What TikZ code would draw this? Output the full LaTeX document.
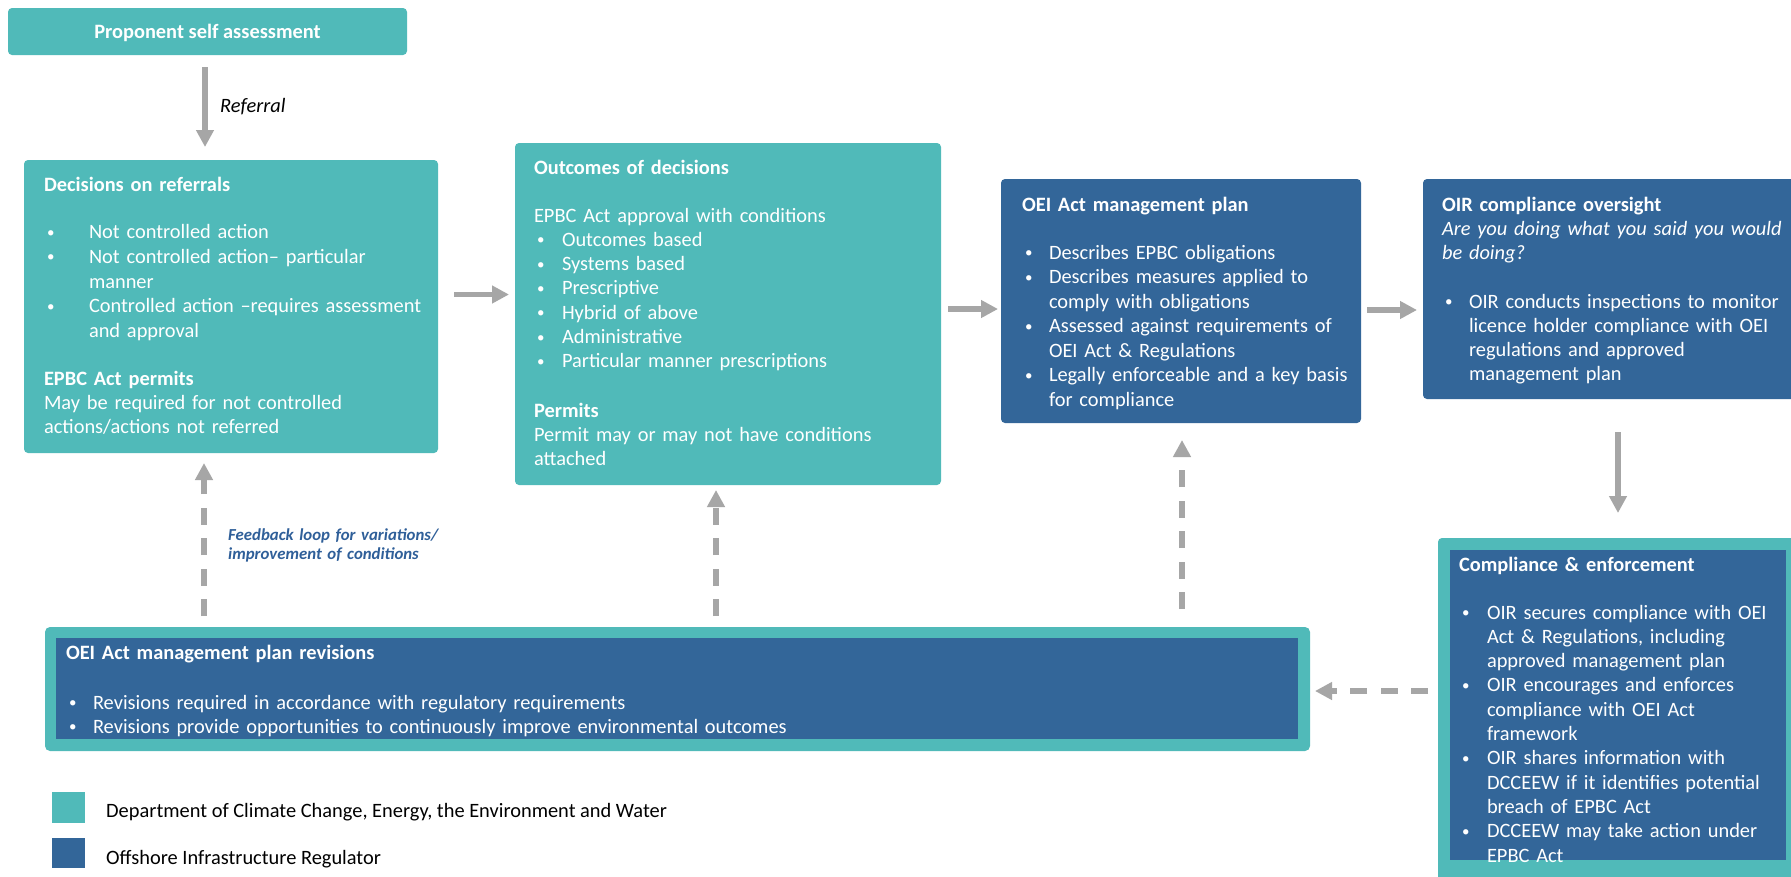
\documentclass[tikz,border=0pt]{standalone}
\usepackage{fontspec}
\setmainfont{Carlito}
\usetikzlibrary{arrows.meta}
\definecolor{tealbox}{HTML}{50BAB9}
\definecolor{navybox}{HTML}{336699}
\definecolor{greyarr}{HTML}{A6A6A6}
\definecolor{fbtext}{HTML}{2F5F99}
\newcommand{\msz}{\fontsize{20.4}{24.3}\selectfont}
\newcommand{\dotb}{\raisebox{1.5pt}{\fontsize{15}{15}\selectfont\textbullet}}
\newcommand{\bul}[2]{\par\hangindent=#1\hangafter=1\noindent\makebox[#1][l]{\hspace{3pt}\dotb}#2}
\newcommand{\bulf}[2]{\hangindent=#1\hangafter=1\makebox[#1][l]{\hspace{3pt}\dotb}#2}
\newcommand{\brk}{\hfil\break}
\begin{document}
\begin{tikzpicture}[x=1pt,y=-1pt,
  boxn/.style={rectangle, rounded corners=4pt, inner sep=0pt, outer sep=0pt, anchor=north west, draw=none},
  sqn/.style={rectangle, inner sep=0pt, outer sep=0pt, anchor=north west, draw=none},
  txt/.style={anchor=base west, inner sep=0pt, outer sep=0pt, text width=#1, align=left, text=white, font=\msz},
  arr/.style={draw=greyarr, line width=5.5pt, -{Triangle[length=17pt,width=17pt]}},
  darr/.style={arr, dash pattern=on 17pt off 13.5pt}
]
\useasboundingbox (0,0) rectangle (1791,876);
\fill[white] (0,0) rectangle (1791,876);

% boxes
\node[boxn, fill=tealbox, minimum width=399pt, minimum height=47pt] (prop) at (8,8) {};
\node[boxn, fill=tealbox, minimum width=414pt, minimum height=293pt] (dec) at (24,160) {};
\node[boxn, fill=tealbox, minimum width=426pt, minimum height=342pt] (out) at (515,143) {};
\node[boxn, fill=navybox, minimum width=360pt, minimum height=244pt] (oei) at (1001,179) {};
\node[boxn, fill=navybox, minimum width=372pt, minimum height=220pt] (oir) at (1423,179) {};
\node[boxn, fill=tealbox, minimum width=362pt, minimum height=345pt] (comp) at (1438,538) {};
\node[sqn, fill=navybox, minimum width=336pt, minimum height=310pt] (compin) at (1450,550) {};
\node[boxn, rounded corners=5pt, fill=tealbox, minimum width=1265pt, minimum height=124pt] (rev) at (45,627) {};
\node[sqn, fill=navybox, minimum width=1242pt, minimum height=101pt] (revin) at (56,638) {};

% texts
\node[font=\msz\bfseries, text=white, inner sep=0pt] (propt) at ([yshift=-1pt]prop.center) {Proponent self assessment};

\node[txt=392pt] (dect) at (44,191) {\bfseries Decisions on referrals};
\node[txt=392pt, font=\fontsize{20.4}{24.8}\selectfont] (decl) at (44,238.5) {\bulf{45pt}{Not controlled action}\bul{45pt}{Not controlled action– particular\brk manner}\bul{45pt}{Controlled action –requires assessment\brk and approval}\par};
\node[txt=392pt] (decp) at (44,385) {{\bfseries EPBC Act permits}\par May be required for not controlled\brk actions/actions not referred};

\node[txt=405pt] (outt) at (534,174) {\bfseries Outcomes of decisions};
\node[txt=405pt] (outl) at (534,222) {EPBC Act approval with conditions\bul{28pt}{Outcomes based}\bul{28pt}{Systems based}\bul{28pt}{Prescriptive}\bul{28pt}{Hybrid of above}\bul{28pt}{Administrative}\bul{28pt}{Particular manner prescriptions}\par};
\node[txt=405pt] (outp) at (534,417) {{\bfseries Permits}\par Permit may or may not have conditions\brk attached};

\node[txt=337pt] (oeit) at (1022,211) {\bfseries OEI Act management plan};
\node[txt=337pt, font=\fontsize{20.4}{24.5}\selectfont] (oeil) at (1022,259) {\bulf{27pt}{Describes EPBC obligations}\bul{27pt}{Describes measures applied to\brk comply with obligations}\bul{27pt}{Assessed against requirements of\brk OEI Act \& Regulations}\bul{27pt}{Legally enforceable and a key basis\brk for compliance}\par};

\node[txt=347pt] (oirt) at (1442,211) {{\bfseries OIR compliance oversight}\par{\itshape Are you doing what you said you would\brk be doing?}};
\node[txt=347pt] (oirl) at (1442,308) {\bulf{27pt}{OIR conducts inspections to monitor\brk licence holder compliance with OEI\brk regulations and approved\brk management plan}\par};

\node[txt=325pt] (compt) at (1459,571) {\bfseries Compliance \& enforcement};
\node[txt=325pt] (compl) at (1459,619) {\bulf{28pt}{OIR secures compliance with OEI\brk Act \& Regulations, including\brk approved management plan}\bul{28pt}{OIR encourages and enforces\brk compliance with OEI Act\brk framework}\bul{28pt}{OIR shares information with\brk DCCEEW if it identifies potential\brk breach of EPBC Act}\bul{28pt}{DCCEEW may take action under\brk EPBC Act}\par};

\node[txt=1225pt] (revt) at (66,659) {\bfseries OEI Act management plan revisions};
\node[txt=1225pt] (revl) at (66,709) {\bulf{27pt}{Revisions required in accordance with regulatory requirements}\bul{27pt}{Revisions provide opportunities to continuously improve environmental outcomes}\par};

\node[anchor=base west, inner sep=0pt, font=\msz\itshape] (refl) at (220,112) {Referral};
\node[anchor=base west, inner sep=0pt, text width=260pt, align=left, text=fbtext, font=\fontsize{16.8}{19}\selectfont\bfseries\itshape] (fbl) at (228,540) {Feedback loop for variations/\brk improvement of conditions};

% legend
\node[sqn, fill=tealbox, minimum width=33pt, minimum height=31pt] (leg1) at (52,792) {};
\node[sqn, fill=navybox, minimum width=33pt, minimum height=30pt] (leg2) at (52,838) {};
\node[anchor=base west, inner sep=0pt, font=\msz] (leg1t) at (106,817) {Department of Climate Change, Energy, the Environment and Water};
\node[anchor=base west, inner sep=0pt, font=\msz] (leg2t) at (106,864) {Offshore Infrastructure Regulator};

% helper coordinates
\coordinate (xref) at (205,0);
\coordinate (ya1) at (0,294.5);
\coordinate (ya2) at (0,309);
\coordinate (ya3) at (0,310);
\coordinate (xdn) at (1618,0);
\coordinate (xd1) at (204,0);
\coordinate (xd2) at (716,0);
\coordinate (xd3) at (1182,0);
\coordinate (yl) at (0,691);

% connectors
\draw[arr, shorten <=12pt, shorten >=13pt] (prop.south -| xref) -- (dec.north -| xref);
\draw[arr, shorten <=16pt, shorten >=6pt] (dec.east |- ya1) -- (out.west |- ya1);
\draw[arr, shorten <=7pt, shorten >=3pt] (out.east |- ya2) -- (oei.west |- ya2);
\draw[arr, shorten <=6pt, shorten >=6pt] (oei.east |- ya3) -- (oir.west |- ya3);
\draw[arr, shorten <=33pt, shorten >=25pt] (oir.south -| xdn) -- (comp.north -| xdn);
\draw[darr, shorten <=11pt, shorten >=10pt] (rev.north -| xd1) -- (dec.south -| xd1);
\draw[darr, shorten <=11pt, shorten >=5pt] (rev.north -| xd2) -- (out.south -| xd2);
\draw[darr, shorten <=18pt, shorten >=17pt] (rev.north -| xd3) -- (oei.south -| xd3);
\draw[darr, shorten <=10pt, shorten >=5pt] (comp.west |- yl) -- (rev.east |- yl);
\end{tikzpicture}
\end{document}
